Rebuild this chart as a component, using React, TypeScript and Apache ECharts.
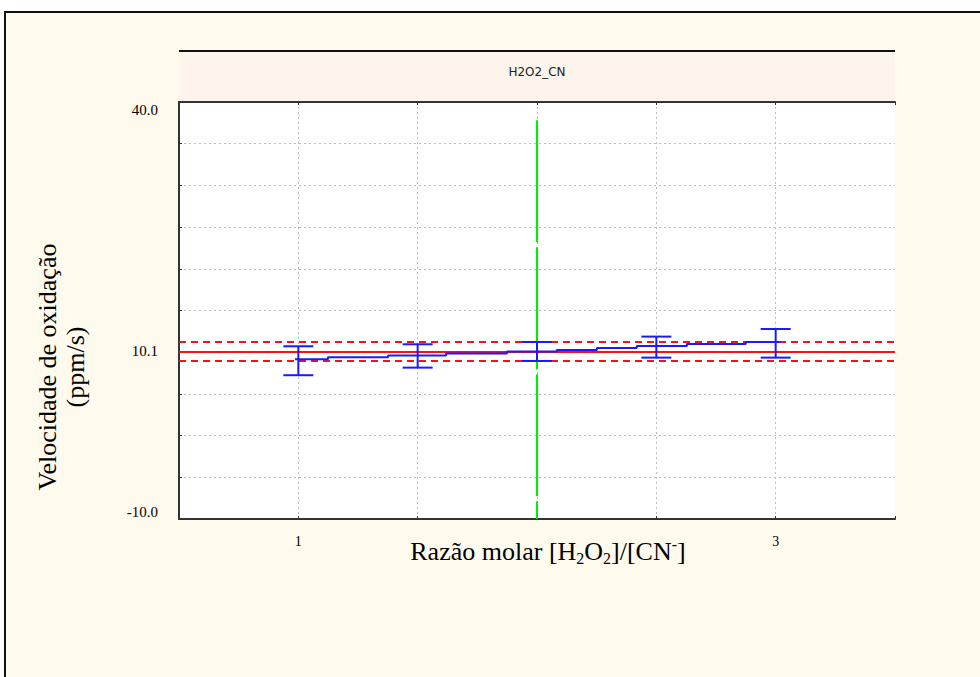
import React, { useEffect, useRef } from "react";
import * as echarts from "echarts";

// Molar ratios at which the oxidation rate was measured, with the interval limits
const ratios = [1, 1.5, 2, 2.5, 3];
const upperLimits = [10.71, 10.95, 11.22, 11.87, 12.78];
const lowerLimits = [7.24, 8.15, 8.95, 9.35, 9.35];

// Fitted mean curve, drawn as a staircase: breakpoints on the ratio axis and level of each step
const stepEdges = [0.986, 1.124, 1.376, 1.619, 1.874, 2.083, 2.251, 2.418, 2.628, 2.875, 3.021];
const stepLevels = [9.15, 9.39, 9.59, 9.83, 10.07, 10.26, 10.5, 10.74, 10.98, 11.22];

// Grand mean and its control limits
const grandMean = 10.1;
const upperControl = 11.22;
const lowerControl = 8.93;

// Vertical reference at the optimum ratio
const optimumRatio = 2;
const optimumSpan = [37.8, -10];

// Axis ranges and labels
const yMin = -10;
const yMax = 40;
const yStep = 5;
const yLabelValues = [-10, 10.1, 40];
const xMin = 0.5;
const xMax = 3.5;
const xStep = 0.5;
const xLabelValues = [1, 3];

const panelTitle = "H2O2_CN";
const yTitle = "Velocidade de oxidação\n(ppm/s)";

const SERIF = "'Liberation Serif', 'Times New Roman', 'DejaVu Serif', serif";

export default function App() {
  const ref = useRef<HTMLDivElement>(null);

  useEffect(() => {
    if (!ref.current) return;
    const chart = echarts.init(ref.current, undefined, { renderer: "svg" });

    const stepData: number[][] = stepLevels.map((v, i) => [stepEdges[i], v]);
    stepData.push([stepEdges[stepEdges.length - 1], stepLevels[stepLevels.length - 1]]);

    const barData = ratios.map((r, i) => [r, upperLimits[i], lowerLimits[i]]);

    const axisLineStyle = { color: "#333", width: 2 };
    const dotted = { color: "#bdbdbd", width: 1, type: [2, 3] as number[] };

    const option: any = {
      animation: false,
      backgroundColor: "#ffffff",
      grid: {
        left: 179,
        right: 85,
        top: 102,
        bottom: 158,
        show: true,
        backgroundColor: "#ffffff",
        borderWidth: 0,
        z: -50,
      },
      xAxis: [
        {
          type: "value",
          position: "bottom",
          min: xMin,
          max: xMax,
          interval: xStep,
          axisLine: { show: true, onZero: false, lineStyle: axisLineStyle },
          axisTick: { show: true, inside: true, length: 3, lineStyle: { color: "#333" } },
          axisLabel: {
            show: true,
            customValues: xLabelValues,
            formatter: (v: number) => String(v),
            fontFamily: SERIF,
            fontSize: 14,
            color: "#000",
            margin: 15,
          },
          splitLine: { show: true, showMaxLine: false, lineStyle: dotted },
        },
        {
          type: "value",
          position: "top",
          min: xMin,
          max: xMax,
          interval: xStep,
          axisLine: { show: true, onZero: false, lineStyle: axisLineStyle },
          axisTick: { show: true, inside: true, length: 3, lineStyle: { color: "#333" } },
          axisLabel: { show: false },
          splitLine: { show: false },
        },
      ],
      yAxis: {
        type: "value",
        min: yMin,
        max: yMax,
        interval: yStep,
        axisLine: { show: true, onZero: false, lineStyle: axisLineStyle },
        axisTick: { show: true, inside: true, length: 3, lineStyle: { color: "#333" } },
        axisLabel: {
          show: true,
          customValues: yLabelValues,
          formatter: (v: number) => v.toFixed(1),
          fontFamily: SERIF,
          fontSize: 15,
          color: "#000",
          margin: 21,
          verticalAlignMaxLabel: "top",
          verticalAlignMinLabel: "bottom",
        },
        splitLine: { show: true, lineStyle: dotted },
      },
      graphic: [
        {
          type: "rect",
          z: -100,
          silent: true,
          shape: { x: 5, y: 12, width: 1000, height: 700 },
          style: { fill: "#FEFAED", stroke: "#111", lineWidth: 2 },
        },
        {
          type: "rect",
          z: -90,
          silent: true,
          shape: { x: 179, y: 51, width: 716, height: 51 },
          style: { fill: "#FDF5EB" },
        },
        {
          type: "line",
          z: 5,
          silent: true,
          shape: { x1: 179, y1: 51, x2: 895, y2: 51 },
          style: { stroke: "#111", lineWidth: 2 },
        },
        {
          type: "text",
          z: 5,
          x: 537,
          y: 72,
          style: {
            text: panelTitle,
            fontFamily: "'DejaVu Sans', sans-serif",
            fontSize: 12,
            fill: "#222",
            align: "center",
            verticalAlign: "middle",
            textAlign: "center",
            textVerticalAlign: "middle",
          },
        },
        {
          type: "text",
          z: 5,
          x: 61,
          y: 367,
          rotation: Math.PI / 2,
          style: {
            text: yTitle,
            fontFamily: SERIF,
            fontSize: 26,
            lineHeight: 28,
            fill: "#000",
            align: "center",
            verticalAlign: "middle",
            textAlign: "center",
            textVerticalAlign: "middle",
          },
        },
        {
          type: "text",
          z: 5,
          x: 548,
          y: 551,
          style: {
            text: "{n|Razão molar [H}{sub|2}{n|O}{sub|2}{n|]/[CN}{sup|-}{n|]}",
            fontFamily: SERIF,
            fontSize: 26,
            fill: "#000",
            align: "center",
            verticalAlign: "middle",
            textAlign: "center",
            textVerticalAlign: "middle",
            rich: {
              n: { fontFamily: SERIF, fontSize: 26, lineHeight: 30, fill: "#000", verticalAlign: "middle" },
              sub: { fontFamily: SERIF, fontSize: 16, lineHeight: 14, fill: "#000", verticalAlign: "bottom" },
              sup: { fontFamily: SERIF, fontSize: 16, lineHeight: 14, fill: "#000", verticalAlign: "top" },
            },
          },
        },
      ],
      series: [
        {
          name: "optimum",
          type: "line",
          xAxisIndex: 0,
          data: optimumSpan.map((v) => [optimumRatio, v]),
          showSymbol: false,
          symbol: "none",
          silent: true,
          z: 3,
          lineStyle: { color: "#00ee00", width: 2, type: [122, 5] },
        },
        {
          name: "limits",
          type: "line",
          xAxisIndex: 0,
          data: [],
          silent: true,
          z: 4,
          markLine: {
            silent: true,
            symbol: "none",
            label: { show: false },
            data: [
              { yAxis: grandMean, lineStyle: { color: "#ff1010", width: 2, type: "solid" } },
              { yAxis: upperControl, lineStyle: { color: "#ff1010", width: 2, type: [7, 5] } },
              { yAxis: lowerControl, lineStyle: { color: "#ff1010", width: 2, type: [7, 5] } },
            ],
          },
        },
        {
          name: "mean curve",
          type: "line",
          xAxisIndex: 0,
          step: "end",
          data: stepData,
          showSymbol: false,
          symbol: "none",
          silent: true,
          z: 5,
          lineStyle: { color: "#1a1aff", width: 2 },
        },
        {
          name: "intervals",
          type: "custom",
          xAxisIndex: 0,
          data: barData,
          silent: true,
          z: 6,
          renderItem: (params: any, api: any) => {
            const x = api.value(0);
            const top = api.coord([x, api.value(1)]);
            const bottom = api.coord([x, api.value(2)]);
            const half = 15;
            const style = { stroke: "#1a1aff", lineWidth: 2 };
            return {
              type: "group",
              children: [
                { type: "line", shape: { x1: top[0], y1: top[1], x2: bottom[0], y2: bottom[1] }, style },
                { type: "line", shape: { x1: top[0] - half, y1: top[1], x2: top[0] + half, y2: top[1] }, style },
                { type: "line", shape: { x1: bottom[0] - half, y1: bottom[1], x2: bottom[0] + half, y2: bottom[1] }, style },
              ],
            };
          },
          encode: { x: 0, y: [1, 2] },
        },
      ],
    };

    chart.setOption(option);
    return () => chart.dispose();
  }, []);

  return (
    <div
      ref={ref}
      style={{ position: "fixed", left: 0, top: 0, width: 980, height: 677 }}
    />
  );
}
